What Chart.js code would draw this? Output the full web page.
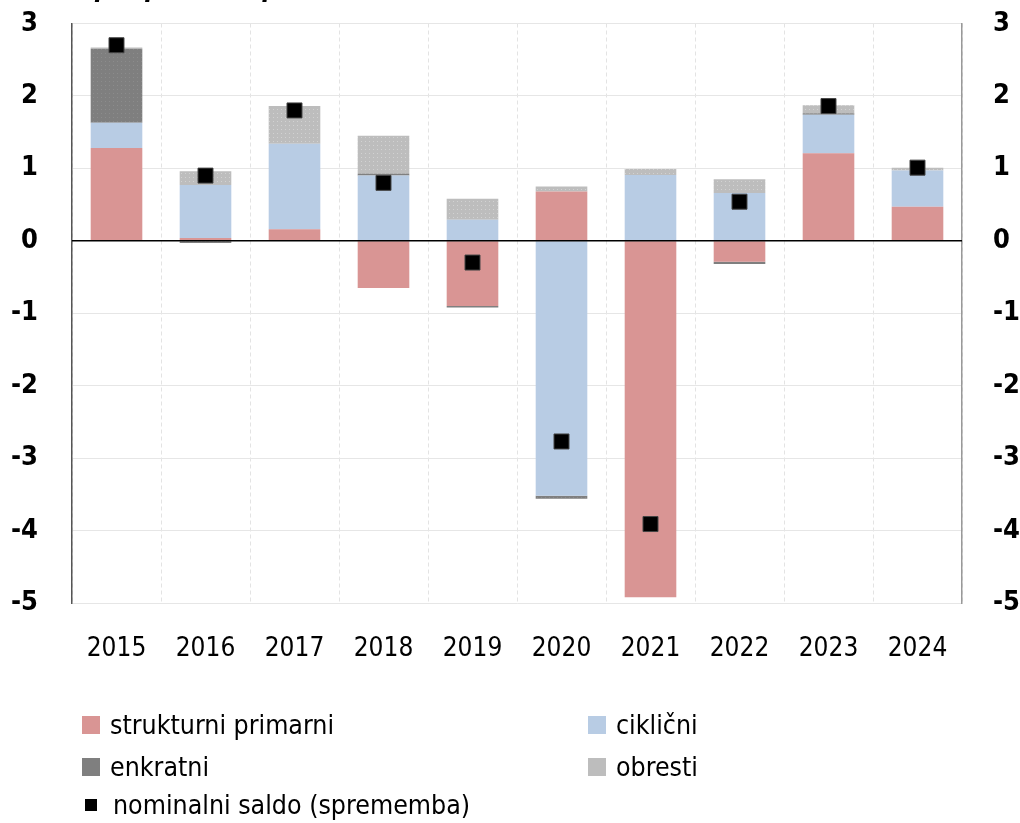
<!DOCTYPE html>
<html>
<head>
<meta charset="utf-8">
<script src="https://cdn.jsdelivr.net/npm/chart.js@4.4.0/dist/chart.umd.min.js"></script>
<style>
  body { margin: 0; background: #fff; }
  #wrap { position: relative; width: 1020px; height: 823px; overflow: hidden; font-family: "DejaVu Sans Condensed", sans-serif; }
  #title { position: absolute; left: 95px; top: -28px; font: italic bold 26px "DejaVu Sans Condensed"; color: #000; white-space: nowrap; }
  .leg { position: absolute; font-size: 26.5px; line-height: 34px; color: #000; white-space: nowrap; }
  .leg span { position: absolute; left: 0; }
  .leg b { font-weight: normal; position: absolute; left: 28px; top: 0; }
</style>
</head>
<body>
<div id="wrap">
  <canvas id="chart" width="1020" height="823"></canvas>
  <div id="title">prispevki k spremembi v % BDP</div>
  <div id="legend"></div>
</div>
<script>
let years = ["2015", "2016", "2017", "2018", "2019", "2020", "2021", "2022", "2023", "2024"];
let strukturni = [1.28, 0.04, 0.16, -0.65, -0.9, 0.68, -4.92, -0.29, 1.21, 0.47];
let ciklicni = [0.35, 0.73, 1.18, 0.9, 0.29, -3.52, 0.91, 0.66, 0.53, 0.5];
let enkratni = [1.02, -0.03, 0, 0.03, -0.02, -0.04, 0, -0.03, 0.02, 0];
let obresti = [0.02, 0.19, 0.52, 0.52, 0.29, 0.07, 0.08, 0.19, 0.11, 0.04];
let saldo = [2.7, 0.9, 1.8, 0.8, -0.3, -2.77, -3.91, 0.54, 1.86, 1.01];
let yTicks = [3, 2, 1, 0, -1, -2, -3, -4, -5];

// dotted fills like the original
function dots(base, dot) {
  let c = document.createElement("canvas");
  c.width = 4;
  c.height = 4;
  let g = c.getContext("2d");
  g.fillStyle = base;
  g.fillRect(0, 0, 4, 4);
  g.fillStyle = dot;
  g.fillRect(1, 1, 1, 1);
  return g.createPattern(c, "repeat");
}
let ctx = document.getElementById("chart").getContext("2d");
let enkratniFill = dots("#7f7f7f", "#8c8c8c");
let obrestiFill = dots("#bdbdbd", "#d2d2d2");

let legendItems = [
  { x: 82, y: 708, color: "#d99594", size: 18, text: "strukturni primarni" },
  { x: 588, y: 708, color: "#b8cce4", size: 18, text: "ciklični" },
  { x: 82, y: 750, color: "#7f7f7f", size: 18, text: "enkratni" },
  { x: 588, y: 750, color: "#bdbdbd", size: 18, text: "obresti" },
  { x: 85, y: 788, color: "#000", size: 12, text: "nominalni saldo (sprememba)" },
];
let legend = document.getElementById("legend");
legendItems.forEach(function (item) {
  let d = document.createElement("div");
  d.className = "leg";
  d.style.left = item.x + "px";
  d.style.top = item.y + "px";
  let off = (34 - item.size) / 2;
  d.innerHTML = `<span style="top:${off}px;width:${item.size}px;height:${item.size}px;background:${item.color}"></span><b>${item.text}</b>`;
  legend.appendChild(d);
});

const zeroLine = {
  id: "zeroLine",
  afterDatasetsDraw(chart) {
    let y = chart.scales.y.getPixelForValue(0);
    let c = chart.ctx;
    c.save();
    c.strokeStyle = "#000";
    c.lineWidth = 1.5;
    c.beginPath();
    c.moveTo(chart.chartArea.left, y);
    c.lineTo(chart.chartArea.right, y);
    c.stroke();
    c.restore();
  },
};

let tickFont = { family: "'DejaVu Sans Condensed'", size: 27, weight: "bold" };

function fitY(width) {
  return function (scale) {
    scale.width = width;
    scale.paddingTop = 0;
    scale.paddingBottom = 0;
  };
}

new Chart(ctx, {
  type: "bar",
  data: {
    labels: years,
    datasets: [
      { label: "strukturni primarni", data: strukturni, backgroundColor: "#d99594", order: 1 },
      { label: "ciklični", data: ciklicni, backgroundColor: "#b8cce4", order: 1 },
      { label: "enkratni", data: enkratni, backgroundColor: enkratniFill, order: 1 },
      { label: "obresti", data: obresti, backgroundColor: obrestiFill, order: 1 },
      {
        type: "line",
        label: "nominalni saldo (sprememba)",
        data: saldo,
        stack: "saldo",
        showLine: false,
        pointStyle: "rect",
        pointRadius: 10.6,
        pointBackgroundColor: "#000",
        pointBorderColor: "#444",
        pointBorderWidth: 1,
        order: 0,
      },
    ],
  },
  options: {
    responsive: false,
    animation: false,
    devicePixelRatio: 1,
    layout: { padding: { top: 23.5, left: 0, right: 0, bottom: 0 } },
    datasets: { bar: { categoryPercentage: 1, barPercentage: 0.58, borderWidth: 0 } },
    plugins: { legend: { display: false }, title: { display: false }, tooltip: { enabled: false } },
    scales: {
      x: {
        stacked: true,
        grid: { offset: true, color: "#e3e3e3", drawTicks: false },
        border: { display: false, dash: [4, 3] },
        ticks: { color: "#000", padding: 31, font: { family: "'DejaVu Sans Condensed'", size: 26 } },
        afterFit: function (scale) {
          scale.height = 220;
        },
      },
      y: {
        stacked: true,
        min: -5,
        max: 3,
        afterBuildTicks: function (scale) {
          scale.ticks = yTicks.map(function (v) {
            return { value: v };
          });
        },
        grid: { color: "#e6e6e6", drawTicks: false },
        border: { color: "#555", width: 1.5 },
        ticks: { color: "#000", padding: 34, font: tickFont },
        afterFit: fitY(72),
      },
      y2: {
        position: "right",
        min: -5,
        max: 3,
        afterBuildTicks: function (scale) {
          scale.ticks = yTicks.map(function (v) {
            return { value: v };
          });
        },
        grid: { drawOnChartArea: false, drawTicks: false },
        border: { color: "#999", width: 1.5 },
        ticks: { color: "#000", padding: 31, font: tickFont },
        afterFit: fitY(58),
      },
    },
  },
  plugins: [zeroLine],
});
</script>
</body>
</html>
